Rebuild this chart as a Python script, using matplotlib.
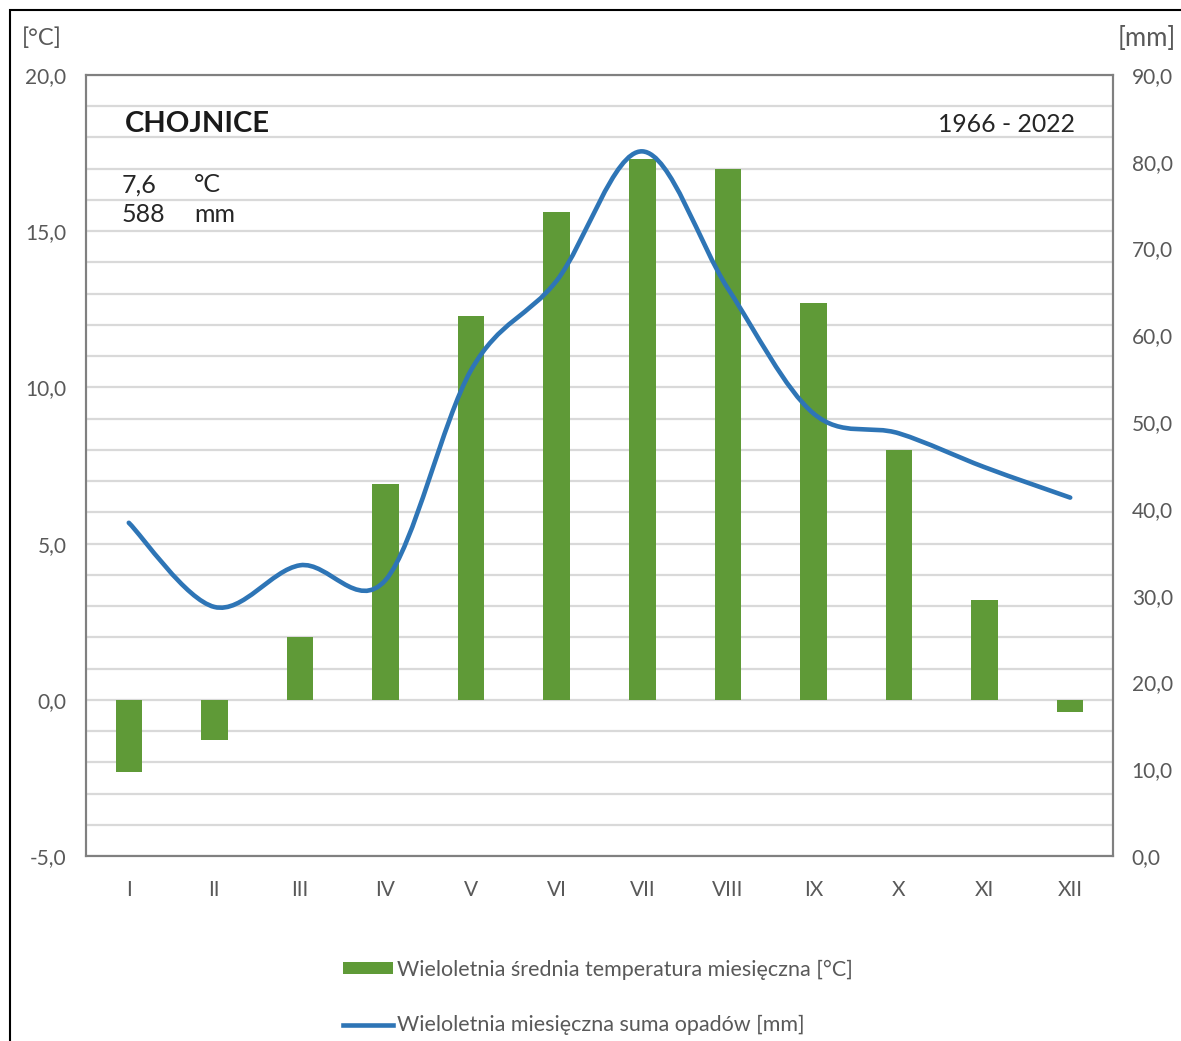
import matplotlib
matplotlib.use("Agg")
import matplotlib.pyplot as plt
from matplotlib.path import Path
from matplotlib.patches import PathPatch, Patch, Rectangle
from matplotlib.lines import Line2D
import numpy as np

plt.rcParams['font.family'] = ['Lato', 'DejaVu Sans']

months = ["I", "II", "III", "IV", "V", "VI", "VII", "VIII", "IX", "X", "XI", "XII"]
temperature = [-2.3, -1.3, 2.0, 6.9, 12.3, 15.6, 17.3, 17.0, 12.7, 8.0, 3.2, -0.4]
precipitation = [38.4, 28.7, 33.5, 31.8, 56.0, 66.3, 81.2, 65.4, 51.0, 48.7, 44.8, 41.3]
left_ticks = [-5.0, 0.0, 5.0, 10.0, 15.0, 20.0]
right_ticks = [0.0, 10.0, 20.0, 30.0, 40.0, 50.0, 60.0, 70.0, 80.0, 90.0]

W, H = 1181, 1041
fig = plt.figure(figsize=(W / 100, H / 100), dpi=100)

def fx(px):
    return px / W

def fy(py):
    return 1 - py / H

GREEN = "#5f9a37"
BLUE = "#2e75b6"
GRID = "#d9d9d9"
TXT = "#595959"
SPINE = "#808080"

ax = fig.add_axes([fx(86), fy(856), fx(1113) - fx(86), fy(75) - fy(856)])
ax2 = ax.twinx()

x = np.arange(len(months))
ax.set_xlim(-0.5, len(months) - 0.5)
ax.set_ylim(-5, 20)
ax2.set_ylim(0, 90)

ax.set_yticks(left_ticks)
ax.set_yticklabels([f"{v:.1f}".replace(".", ",") for v in left_ticks])
ax.set_yticks(np.arange(-5, 21, 1), minor=True)
ax2.set_yticks(right_ticks)
ax2.set_yticklabels([f"{v:.1f}".replace(".", ",") for v in right_ticks])
ax.yaxis.grid(True, which='both', color=GRID, linewidth=1.6)
ax.set_axisbelow(True)

ax.bar(x, temperature, width=0.31, color=GREEN, zorder=2)

# smoothed line (Excel-style Catmull-Rom Bezier through the data points)
pts = np.column_stack([x, precipitation]).astype(float)
ext = np.vstack([pts[0], pts, pts[-1]])
verts = [tuple(pts[0])]
codes = [Path.MOVETO]
for i in range(len(pts) - 1):
    p0, p1, p2, p3 = ext[i], ext[i + 1], ext[i + 2], ext[i + 3]
    c1 = p1 + (p2 - p0) / 6.0
    c2 = p2 - (p3 - p1) / 6.0
    verts += [tuple(c1), tuple(c2), tuple(p2)]
    codes += [Path.CURVE4] * 3
ax2.add_patch(PathPatch(Path(verts, codes), facecolor='none', edgecolor=BLUE,
                        linewidth=3.3, capstyle='round', zorder=3))

ax.set_xticks(x)
ax.set_xticklabels(months)
for a in (ax, ax2):
    a.tick_params(axis='both', which='both', length=0, labelsize=15, labelcolor=TXT)
    for s in a.spines.values():
        s.set_color(SPINE)
        s.set_linewidth(1.5)
ax.tick_params(axis='x', pad=17)
ax.tick_params(axis='y', pad=14)
ax2.tick_params(axis='y', pad=13.5)

# texts
fig.text(fx(125), fy(124), "CHOJNICE", fontsize=21, fontweight='bold', color="#1a1a1a",
         ha='left', va='center')
fig.text(fx(1075), fy(124), "1966 - 2022", fontsize=17.8, color="#262626",
         ha='right', va='center')
fig.text(fx(122), fy(185), "7,6", fontsize=18, color="#262626", ha='left', va='center')
fig.text(fx(194), fy(185), "°C", fontsize=18, color="#262626", ha='left', va='center')
fig.text(fx(122), fy(215), "588", fontsize=18, color="#262626", ha='left', va='center')
fig.text(fx(194), fy(215), "mm", fontsize=18, color="#262626", ha='left', va='center')
fig.text(fx(22), fy(38), "[°C]", fontsize=17, color=TXT, ha='left', va='center')
fig.text(fx(1176), fy(38), "[mm]", fontsize=18.5, color=TXT, ha='right', va='center')

handles = [Patch(facecolor=GREEN, edgecolor='none'),
           Line2D([0], [0], color=BLUE, linewidth=3.3)]
labels = ["Wieloletnia średnia temperatura miesięczna [°C]",
          "Wieloletnia miesięczna suma opadów [mm]"]
leg = fig.legend(handles, labels, loc='upper left', bbox_to_anchor=(fx(332), fy(949)),
                 frameon=False, fontsize=15.5, handlelength=2.33, handleheight=0.47,
                 handletextpad=0.2, labelspacing=1.64, borderpad=0)
for t in leg.get_texts():
    t.set_color(TXT)

# outer frame
fig.patches.append(Rectangle((fx(10), fy(1060)), 1.2, fy(10) - fy(1060),
                             transform=fig.transFigure, fill=False,
                             edgecolor='black', linewidth=1.5, zorder=10))

fig.savefig("out.png", dpi=100)
